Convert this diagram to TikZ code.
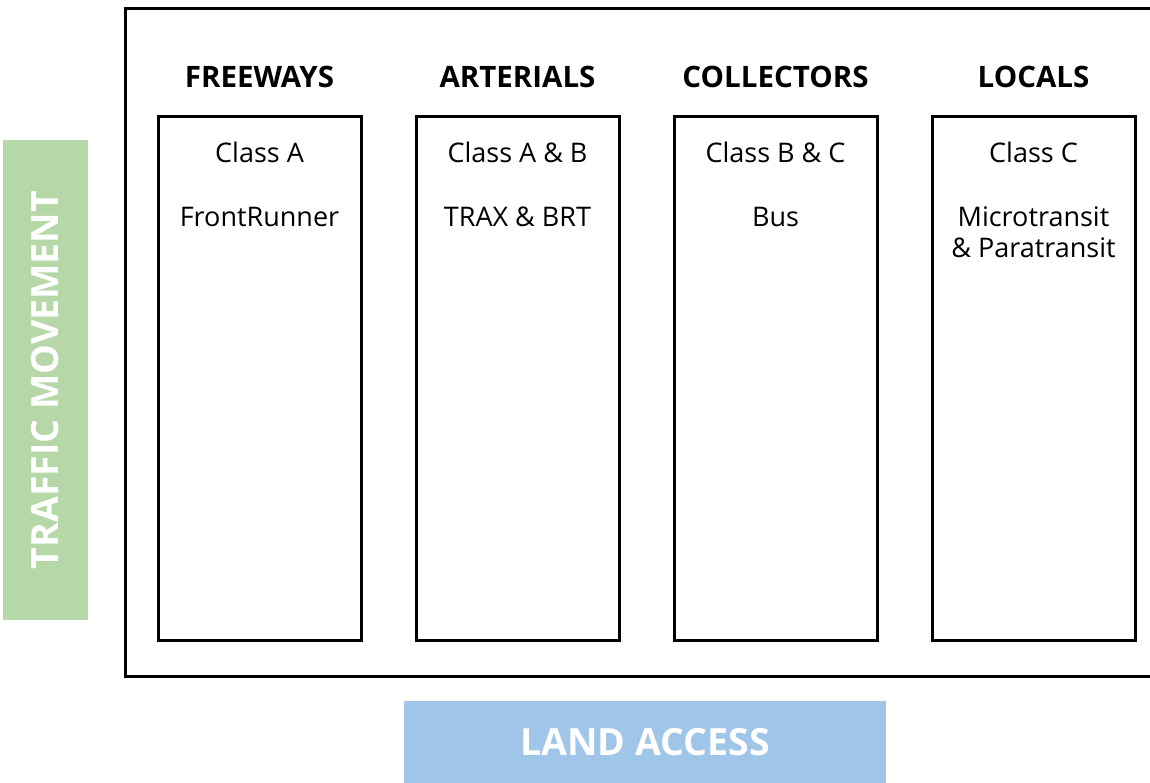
\documentclass[tikz,border=0pt]{standalone}
\usepackage{fontspec}
\setmainfont{Open Sans}
\usepackage{xcolor}
\usepackage{tikz}
\usetikzlibrary{positioning}
\definecolor{movegreen}{HTML}{B6D7A8}
\definecolor{accessblue}{HTML}{9FC5E8}
\tikzstyle{frame} = [rectangle, draw=black, line width=3pt, minimum width=1045pt, minimum height=668pt, inner sep=0pt]
\tikzstyle{column} = [rectangle, draw=black, line width=3pt, minimum width=203pt, minimum height=524pt, inner sep=0pt]
\tikzstyle{header} = [font=\bfseries\fontsize{29.5}{34}\selectfont, anchor=base, inner sep=0pt]
\tikzstyle{entry} = [font=\fontsize{27}{31}\selectfont, anchor=base, inner sep=0pt]
\tikzstyle{bar} = [rectangle, inner sep=0pt, text=white, font=\bfseries\fontsize{37.5}{40}\selectfont]

\begin{document}
\begin{tikzpicture}[x=1pt, y=1pt]
    \useasboundingbox (0,0) rectangle (1150,783);
    \node (frame) [frame] at (647.5,440) {};
    \node (Freeways) [column] at (259.5,404) {};
    \node (Arterials) [column, right=52pt of Freeways] {};
    \node (Collectors) [column, right=52pt of Arterials] {};
    \node (Locals) [column, right=52pt of Collectors] {};
    % column titles
    \node [header] at ([yshift=28pt]Freeways.north) {FREEWAYS};
    \node [header] at ([yshift=28pt]Arterials.north) {ARTERIALS};
    \node [header] at ([yshift=28pt]Collectors.north) {COLLECTORS};
    \node [header] at ([yshift=28pt]Locals.north) {LOCALS};
    % class and transit mode
    \node [entry] at ([yshift=-47pt]Freeways.north) {Class A};
    \node [entry] at ([yshift=-47pt]Arterials.north) {Class A \& B};
    \node [entry] at ([yshift=-47pt]Collectors.north) {Class B \& C};
    \node [entry] at ([yshift=-47pt]Locals.north) {Class C};
    \node [entry] at ([yshift=-111pt]Freeways.north) {FrontRunner};
    \node [entry] at ([yshift=-111pt]Arterials.north) {TRAX \& BRT};
    \node [entry] at ([yshift=-111pt]Collectors.north) {Bus};
    \node [entry] at ([yshift=-111pt]Locals.north) {Microtransit};
    \node [entry] at ([yshift=-142pt]Locals.north) {\& Paratransit};
    % axis bars
    \node (Movement) [bar, fill=movegreen, minimum width=480pt, minimum height=85pt, rotate=90] at (45.5,403) {TRAFFIC MOVEMENT};
    \node (Access) [bar, fill=accessblue, minimum width=482pt, minimum height=82pt] at (645,41) {LAND ACCESS};
\end{tikzpicture}
\end{document}
